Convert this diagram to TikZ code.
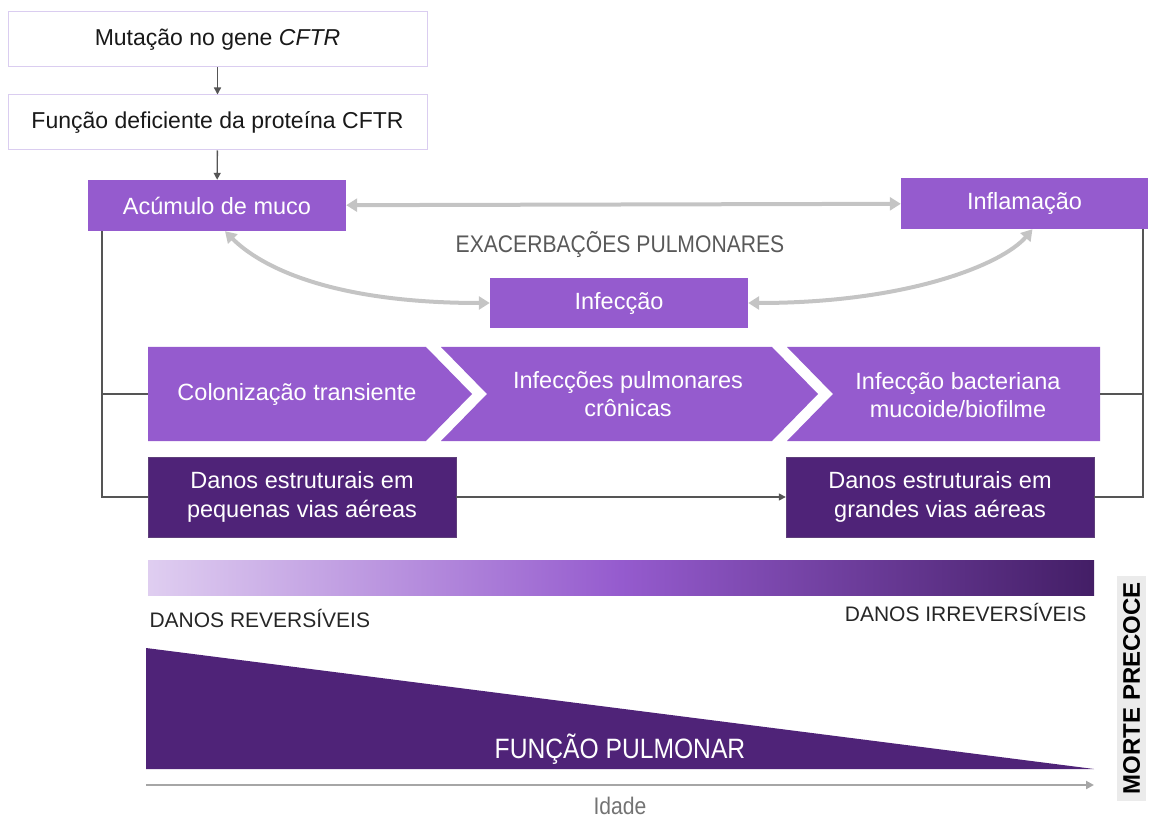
\documentclass[tikz,border=0pt]{standalone}
\usepackage{fontspec}
\setmainfont{Liberation Sans}
\newfontfamily\narrowfont[FakeStretch=0.88]{Liberation Sans}
\usetikzlibrary{arrows.meta}

\definecolor{roxo}{HTML}{955BCE}
\definecolor{roxoesc}{HTML}{4F2378}
\definecolor{lilas}{HTML}{DACDF0}
\definecolor{cinzaseta}{HTML}{C4C4C4}
\definecolor{cinzalinha}{HTML}{555555}

\tikzset{
  txt/.style = {font=\fontsize{23.5}{28.5}\selectfont},
  caixa/.style = {draw=lilas, line width=1pt, fill=white, minimum width=419pt,
    minimum height=55pt, inner sep=0pt, font=\fontsize{23}{28}\selectfont, text=black!90},
  etapa/.style = {fill=roxo, minimum height=51pt, inner sep=0pt, txt, text=white},
  dano/.style = {fill=roxoesc, draw=roxoesc!70!gray, minimum width=308pt,
    minimum height=80pt, inner sep=0pt, txt, text=white, align=center},
  liga/.style = {draw=cinzalinha, line width=1.4pt},
  seta/.style = {liga, -{Triangle[length=7pt,width=7pt]}},
  exac/.style = {draw=cinzaseta, line width=4pt,
    {Triangle[length=11pt,width=13pt]}-{Triangle[length=11pt,width=13pt]}},
  rotulo/.style = {font=\fontsize{21}{25}\selectfont, text=black!85}
}

\begin{document}
\begin{tikzpicture}[x=1pt, y=-1pt]
\useasboundingbox (0,0) rectangle (1149,818);

% cadeia inicial
\node (mut) [caixa] at (217.5,39.5) {Mutação no gene \textit{CFTR}};
\node (func) [caixa] at (217.5,122.5) {Função deficiente da proteína CFTR};
\node (acum) [etapa, minimum width=258pt] at (217,205.5) {Acúmulo de muco};
\node (infl) [etapa, minimum width=247pt] at (1024.5,203.5) {Inflamação};
\node (infec) [etapa, minimum width=258pt, minimum height=50pt] at (619,303) {Infecção};

\draw[seta] (mut) -- (func);
\draw[seta] (func) -- (acum);

% exacerbacoes
\draw[exac] (acum) -- (infl);
\node (exa) at (620,245) [font=\narrowfont\fontsize{24}{28}\selectfont, text=black!65] {EXACERBAÇÕES PULMONARES};
\draw[exac] ([xshift=8]acum.south) .. controls +(35,35) and +(-160,0) .. (infec.west);
\draw[exac] ([xshift=8]infl.south) .. controls +(-30,35) and +(160,0) .. (infec.east);

% setas em chevron
\fill[roxo] (148,347) -- (426,347) -- (472,394) -- (426,441) -- (148,441) -- cycle;
\fill[roxo] (441,347) -- (772,347) -- (818,394) -- (772,441) -- (441,441) -- (487,394) -- cycle;
\fill[roxo] (787,347) -- (1100,347) -- (1100,441) -- (787,441) -- (833,394) -- cycle;
\coordinate (c1w) at (148,394);
\coordinate (c3e) at (1100,394);
\node (col) at (297,394) [txt, text=white] {Colonização transiente};
\node (cron) at (628,394) [txt, text=white, align=center] {Infecções pulmonares\\crônicas};
\node (bact) at (958,395) [txt, text=white, align=center] {Infecção bacteriana\\mucoide/biofilme};

% danos estruturais
\node (peq) [dano] at (302,497) {Danos estruturais em\\pequenas vias aéreas};
\node (gra) [dano] at (940,497) {Danos estruturais em\\grandes vias aéreas};
\draw[seta] (peq) -- (gra);

\coordinate (lbus) at (102,497);
\coordinate (rbus) at (1143,497);
\draw[liga] (acum.south -| lbus) -- (lbus) -- (peq.west);
\draw[liga] (c1w -| lbus) -- (c1w);
\draw[liga] (infl.south -| rbus) -- (rbus) -- (gra.east);
\draw[liga] (c3e) -- (c3e -| rbus);

% barra de danos
\shade[left color=roxo!30, right color=roxoesc!85!black, middle color=roxo] (148,560) rectangle (1094,595);
\node (rev) at (146,618) [anchor=west, rotulo] {DANOS REVERSÍVEIS};
\node (irr) at (1090,612) [anchor=east, rotulo] {DANOS IRREVERSÍVEIS};

% funcao pulmonar
\fill[roxoesc] (146,648) -- (146,769) -- (1094,769) -- cycle;
\node (fp) at (620,749) [font=\narrowfont\fontsize{28}{31}\selectfont, text=white] {FUNÇÃO PULMONAR};
\coordinate (ax0) at (146,785);
\coordinate (ax1) at (1094,785);
\draw[draw=black!35, line width=2pt, -{Triangle[length=8pt,width=8pt]}] (ax0) -- (ax1);
\node (idade) at (620,806) [font=\narrowfont\fontsize{24}{28}\selectfont, text=black!55] {Idade};

\node (morte) at (1131.5,688) [rotate=90, fill=black!8, minimum width=225pt, minimum height=29pt, inner sep=0pt,
  font=\bfseries\fontsize{24}{28}\selectfont] {MORTE PRECOCE};

\end{tikzpicture}
\end{document}
